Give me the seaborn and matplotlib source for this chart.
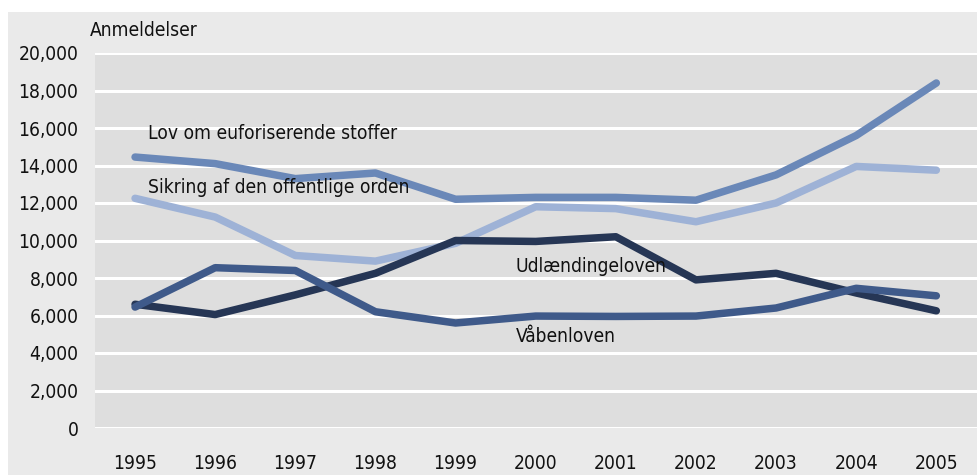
import matplotlib
matplotlib.use("Agg")
import matplotlib.pyplot as plt
from matplotlib import font_manager
from matplotlib.patches import Rectangle
import seaborn as sns
import pandas as pd

years = [1995, 1996, 1997, 1998, 1999, 2000, 2001, 2002, 2003, 2004, 2005]
lov_euf = [14450, 14100, 13300, 13600, 12200, 12300, 12300, 12150, 13500, 15600, 18400]
sikring = [12250, 11250, 9200, 8900, 9850, 11800, 11700, 11000, 12000, 13950, 13750]
udl = [6600, 6050, 7100, 8250, 10000, 9950, 10200, 7900, 8250, 7200, 6250]
vaaben = [6450, 8550, 8400, 6200, 5600, 5970, 5950, 5970, 6400, 7450, 7050]
series_names = ["Lov om euforiserende stoffer", "Sikring af den offentlige orden",
                "Udlændingeloven", "Våbenloven"]
y_ticks = [0, 2000, 4000, 6000, 8000, 10000, 12000, 14000, 16000, 18000, 20000]
y_label = "Anmeldelser"
colors = ["#6a88b8", "#9eb2d6", "#263655", "#3f5a8a"]

sns.set_theme(style="white")
cond = [f for f in font_manager.fontManager.ttflist
        if ("Narrow" in f.name or "Condensed" in f.name
            or str(f.stretch) in ("condensed", "semi-condensed", "extra-condensed"))
        and f.style == "normal"]
stretch = "normal"
if cond:
    fam = cond[0].name
    stretch = cond[0].stretch
    size = 13.8
else:
    fam = "Lato"
    size = 13
plt.rcParams["font.family"] = [fam, "DejaVu Sans"]
plt.rcParams["font.stretch"] = stretch

rows = []
for name, vals in zip(series_names, [lov_euf, sikring, udl, vaaben]):
    for yr, v in zip(years, vals):
        rows.append({"year": yr, "value": v, "series": name})
df = pd.DataFrame(rows)

fig = plt.figure(figsize=(9.78, 4.75), dpi=100)
fig.patch.set_facecolor("white")
fig.patches.append(Rectangle((8/978, 0), 1, 1 - 12/475, transform=fig.transFigure,
                             facecolor="#eaeaea", edgecolor="none", zorder=-10))
ax = fig.add_axes([95/978, 47/475, 883/978, 375/475])
ax.set_facecolor("#dedede")

for y in y_ticks:
    ax.axhline(y, color="white", lw=2.2, zorder=1)

sns.lineplot(data=df, x="year", y="value", hue="series", palette=colors,
             hue_order=series_names, linewidth=5.4, ax=ax, legend=False,
             solid_capstyle="round", zorder=3)

ax.set_xlim(1994.5, 2005.52)
ax.set_ylim(0, 20000)
ax.set_xticks(years)
ax.set_xticklabels([str(y) for y in years], fontsize=size, color="#111111")
ax.set_yticks(y_ticks)
ax.set_yticklabels([f"{v:,}" for v in y_ticks], fontsize=size, color="#111111")
ax.tick_params(axis="both", length=0)
ax.tick_params(axis="x", pad=19)
ax.tick_params(axis="y", pad=12)
ax.set_xlabel("")
ax.set_ylabel("")
for s in ax.spines.values():
    s.set_visible(False)

fig.text(90/978, 1 - 30/475, y_label, fontsize=size, color="#111111", va="center", ha="left")
lab_kw = dict(fontsize=size, color="#111111", va="center", ha="left")
ax.text(1995.16, 15700, series_names[0], **lab_kw)
ax.text(1995.16, 12850, series_names[1], **lab_kw)
ax.text(1999.75, 8600, series_names[2], **lab_kw)
ax.text(1999.75, 4900, series_names[3], **lab_kw)

fig.savefig("out.png", dpi=100)
